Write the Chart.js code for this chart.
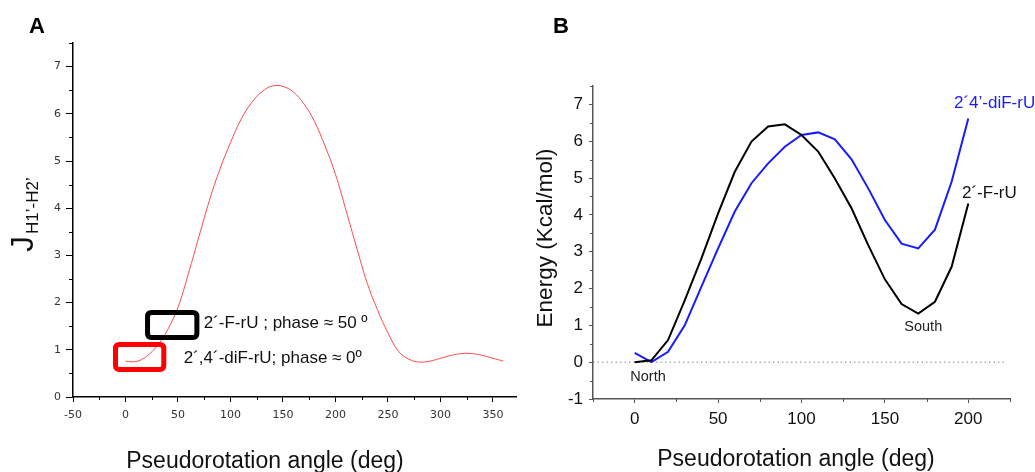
<!DOCTYPE html>
<html>
<head>
<meta charset="utf-8">
<script src="https://cdn.jsdelivr.net/npm/chart.js@4.4.1/dist/chart.umd.min.js"></script>
<style>
    body { margin: 0; background: #fff; }
    #wrap { position: relative; width: 1035px; height: 472px; overflow: hidden; background: #fff; }
    canvas { position: absolute; top: 0; }
    #chartA { left: 0; }
    #chartB { left: 500px; }
</style>
</head>
<body>
<div id="wrap">
    <canvas id="chartA" width="525" height="472"></canvas>
    <canvas id="chartB" width="535" height="472"></canvas>
</div>
<script>
// Panel A - J(H1'-H2') vs pseudorotation angle
const angleA = [0, 10, 20, 30, 40, 50, 60, 70, 80, 90, 100, 110, 120, 130, 140, 150, 160, 170, 180,
    190, 200, 210, 220, 230, 240, 250, 260, 270, 280, 290, 300, 310, 320, 330, 340, 350, 360];
const jCoupling = [0.76, 0.75, 0.86, 1.08, 1.42, 1.9, 2.62, 3.4, 4.17, 4.83, 5.39, 5.88, 6.23, 6.47, 6.59, 6.58, 6.46, 6.21, 5.84,
    5.32, 4.72, 3.96, 3.18, 2.43, 1.85, 1.36, 0.97, 0.8, 0.74, 0.76, 0.82, 0.88, 0.92, 0.92, 0.88, 0.82, 0.76];
const xTicksA = [-50, 0, 50, 100, 150, 200, 250, 300, 350];
const xMinorA = [-25, 25, 75, 125, 175, 225, 275, 325];
const yTicksA = [0, 1, 2, 3, 4, 5, 6, 7];
const yMinorA = [0.5, 1.5, 2.5, 3.5, 4.5, 5.5, 6.5, 7.5];

// Panel B - energy profiles
const angleB = [0, 10, 20, 30, 40, 50, 60, 70, 80, 90, 100, 110, 120, 130, 140, 150, 160, 170, 180, 190, 200];
const energyFrU = [0, 0.05, 0.6, 1.68, 2.82, 4.04, 5.17, 5.99, 6.4, 6.46, 6.17, 5.72, 4.99, 4.18, 3.18, 2.25, 1.58, 1.32, 1.64, 2.59, 4.31];
const energyDiFrU = [0.25, 0, 0.28, 1.0, 2.05, 3.09, 4.09, 4.86, 5.4, 5.85, 6.17, 6.24, 6.05, 5.51, 4.72, 3.86, 3.22, 3.09, 3.6, 4.9, 6.62];
const zeroLineX = [-25, 222];
const xTicksB = [0, 50, 100, 150, 200];
const xMinorB = [-25, 25, 75, 125, 175, 225];
const yTicksB = [-1, 0, 1, 2, 3, 4, 5, 6, 7];
const yMinorB = [-0.5, 0.5, 1.5, 2.5, 3.5, 4.5, 5.5, 6.5, 7.5];

const SANS = '"Liberation Sans", Arial, sans-serif';

function toPoints(xs, ys) {
    return xs.map((x, i) => ({ x: x, y: ys[i] }));
}

// Function to draw the small minor ticks Chart.js has no option for
function drawMinorTicks(chart, xs, ys, xLen, yLen, color, width) {
    const ctx = chart.ctx;
    const xScale = chart.scales.x, yScale = chart.scales.y;
    const area = chart.chartArea;
    ctx.save();
    ctx.strokeStyle = color;
    ctx.lineWidth = width;
    ctx.beginPath();
    xs.forEach(v => {
        const px = Math.round(xScale.getPixelForValue(v)) + 0.5;
        ctx.moveTo(px, area.bottom);
        ctx.lineTo(px, area.bottom + xLen);
    });
    ys.forEach(v => {
        const py = Math.round(yScale.getPixelForValue(v)) + 0.5;
        ctx.moveTo(area.left, py);
        ctx.lineTo(area.left - yLen, py);
    });
    ctx.stroke();
    ctx.restore();
}

function roundRect(ctx, x, y, w, h, r) {
    ctx.beginPath();
    ctx.moveTo(x + r, y);
    ctx.lineTo(x + w - r, y);
    ctx.quadraticCurveTo(x + w, y, x + w, y + r);
    ctx.lineTo(x + w, y + h - r);
    ctx.quadraticCurveTo(x + w, y + h, x + w - r, y + h);
    ctx.lineTo(x + r, y + h);
    ctx.quadraticCurveTo(x, y + h, x, y + h - r);
    ctx.lineTo(x, y + r);
    ctx.quadraticCurveTo(x, y, x + r, y);
    ctx.closePath();
}

// Highlight boxes and their notes on panel A (data coordinates)
const boxesA = [
    { x0: 21, x1: 68, y0: 1.26, y1: 1.79, color: '#000', text: '2\u00b4-F-rU ; phase \u2248 50 \u00ba', tx: 74.5, ty: 1.56 },
    { x0: -9.5, x1: 36.5, y0: 0.58, y1: 1.11, color: '#ff0000', text: '2\u00b4,4\u00b4-diF-rU; phase \u2248 0\u00ba', tx: 55.5, ty: 0.82 }
];

const panelAPlugin = {
    id: 'panelA',
    afterDraw(chart) {
        const ctx = chart.ctx;
        const xs = chart.scales.x, ys = chart.scales.y;
        drawMinorTicks(chart, xMinorA, yMinorA, 3, 4, '#000', 1);

        boxesA.forEach(b => {
            const l = xs.getPixelForValue(b.x0), r = xs.getPixelForValue(b.x1);
            const t = ys.getPixelForValue(b.y1), btm = ys.getPixelForValue(b.y0);
            ctx.save();
            ctx.strokeStyle = b.color;
            ctx.lineWidth = 5;
            roundRect(ctx, l, t, r - l, btm - t, 4);
            ctx.stroke();
            ctx.fillStyle = '#111';
            ctx.font = '17px ' + SANS;
            ctx.textBaseline = 'middle';
            ctx.fillText(b.text, xs.getPixelForValue(b.tx), ys.getPixelForValue(b.ty));
            ctx.restore();
        });

        ctx.save();
        ctx.fillStyle = '#000';
        ctx.font = 'bold 22px ' + SANS;
        ctx.textBaseline = 'middle';
        ctx.textAlign = 'center';
        ctx.fillText('A', 37, 27);

        ctx.font = '23px ' + SANS;
        ctx.fillStyle = '#111';
        ctx.fillText('Pseudorotation angle (deg)', 265, 462);

        // y title: J with subscript
        ctx.translate(33, 252);
        ctx.rotate(-Math.PI / 2);
        ctx.textAlign = 'left';
        ctx.textBaseline = 'alphabetic';
        ctx.font = '32px ' + SANS;
        ctx.fillText('J', 0, 0);
        const w = ctx.measureText('J').width;
        ctx.font = '17px ' + SANS;
        ctx.fillText('H1\u2019-H2\u2019', w + 2, 5);
        ctx.restore();
    }
};

const panelBPlugin = {
    id: 'panelB',
    afterDraw(chart) {
        const ctx = chart.ctx;
        const xs = chart.scales.x, ys = chart.scales.y;
        drawMinorTicks(chart, xMinorB, yMinorB, 3, 3, '#555', 1);

        ctx.save();
        ctx.textAlign = 'center';
        ctx.textBaseline = 'middle';
        ctx.font = '14.5px ' + SANS;
        ctx.fillStyle = '#222';
        ctx.fillText('North', xs.getPixelForValue(8), ys.getPixelForValue(-0.4));
        ctx.fillText('South', xs.getPixelForValue(173), ys.getPixelForValue(0.96));

        ctx.textAlign = 'left';
        ctx.font = '17px ' + SANS;
        ctx.fillStyle = '#1a1aff';
        ctx.fillText('2\u00b44\u2019-diF-rU', 454, 103);
        ctx.fillStyle = '#111';
        ctx.fillText('2\u00b4-F-rU', 462, 193);

        ctx.textAlign = 'center';
        ctx.fillStyle = '#000';
        ctx.font = 'bold 22px ' + SANS;
        ctx.fillText('B', 61, 27);

        ctx.fillStyle = '#111';
        ctx.font = '23px ' + SANS;
        ctx.fillText('Pseudorotation angle (deg)', 296, 460);

        ctx.translate(46, 238);
        ctx.rotate(-Math.PI / 2);
        ctx.font = '22.5px ' + SANS;
        ctx.fillText('Energy (Kcal/mol)', 0, 0);
        ctx.restore();
    }
};

function linearAxis(min, max, tickValues, o) {
    return {
        type: 'linear',
        min: min,
        max: max,
        afterBuildTicks: scale => { scale.ticks = tickValues.map(v => ({ value: v })); },
        afterFit: o.fit,
        grid: {
            display: true,
            drawOnChartArea: false,
            drawTicks: true,
            tickLength: o.tickLength,
            tickColor: o.color,
            tickWidth: 1
        },
        border: { display: true, color: o.color, width: o.borderWidth },
        ticks: {
            padding: o.padding,
            color: o.labelColor,
            font: o.font,
            maxRotation: 0,
            autoSkip: false
        }
    };
}

const commonOptions = {
    responsive: false,
    animation: false,
    devicePixelRatio: 1,
    events: [],
    plugins: { legend: { display: false }, tooltip: { enabled: false } },
    elements: { point: { radius: 0 } }
};

// Chart A
new Chart(document.getElementById('chartA').getContext('2d'), {
    type: 'line',
    data: {
        datasets: [{
            data: toPoints(angleA, jCoupling),
            borderColor: '#ff4a4a',
            borderWidth: 1,
            tension: 0.4,
            fill: false
        }]
    },
    options: Object.assign({}, commonOptions, {
        layout: { padding: { top: 43, right: 9, left: 0, bottom: 0 } },
        scales: {
            x: linearAxis(-50, 372, xTicksA, {
                fit: s => { s.height = 75; },
                tickLength: 5, color: '#000', borderWidth: 1.5, padding: 7,
                labelColor: '#333', font: { family: '"DejaVu Sans", Verdana, sans-serif', size: 11 }
            }),
            y: linearAxis(0, 7.5, yTicksA, {
                fit: s => { s.width = 73; },
                tickLength: 7, color: '#000', borderWidth: 1.5, padding: 5,
                labelColor: '#333', font: { family: '"DejaVu Sans", Verdana, sans-serif', size: 11 }
            })
        }
    }),
    plugins: [panelAPlugin]
});

// Chart B
new Chart(document.getElementById('chartB').getContext('2d'), {
    type: 'line',
    data: {
        datasets: [
            {
                data: toPoints(zeroLineX, [0, 0]),
                borderColor: '#888',
                borderWidth: 1,
                borderDash: [1.5, 3],
                order: 3
            },
            {
                data: toPoints(angleB, energyDiFrU),
                borderColor: '#1a1aff',
                borderWidth: 2,
                tension: 0,
                order: 2
            },
            {
                data: toPoints(angleB, energyFrU),
                borderColor: '#000',
                borderWidth: 2,
                tension: 0,
                order: 1
            }
        ]
    },
    options: Object.assign({}, commonOptions, {
        layout: { padding: { top: 86, right: 25, left: 0, bottom: 0 } },
        scales: {
            x: linearAxis(-25, 225, xTicksB, {
                fit: s => { s.height = 73; },
                tickLength: 4, color: '#555', borderWidth: 1.5, padding: 6,
                labelColor: '#111', font: { family: SANS, size: 17 }
            }),
            y: linearAxis(-1, 7.5, yTicksB, {
                fit: s => { s.width = 93; },
                tickLength: 4, color: '#555', borderWidth: 1.5, padding: 6,
                labelColor: '#111', font: { family: SANS, size: 17 }
            })
        }
    }),
    plugins: [panelBPlugin]
});
</script>
</body>
</html>
